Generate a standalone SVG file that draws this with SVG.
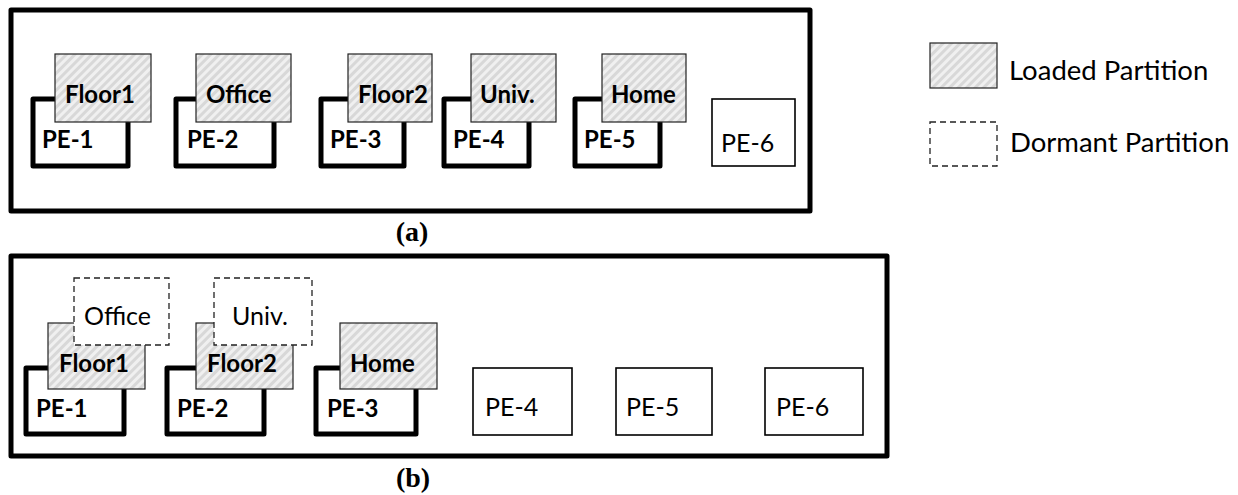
<svg xmlns="http://www.w3.org/2000/svg" width="1238" height="495" viewBox="0 0 1238 495">
  <defs>
    <!-- diagonal hatch used for loaded partitions -->
    <pattern id="hatch" width="6" height="6" patternUnits="userSpaceOnUse" patternTransform="rotate(45)">
      <rect width="6" height="6" fill="#f0f0f0"/>
      <rect width="3" height="6" fill="#d8d8d8"/>
    </pattern>
    <style>
      .frame { fill: #fff; stroke: #000; stroke-width: 5; stroke-linejoin: round; }
      .pe-busy { fill: #fff; stroke: #000; stroke-width: 5; stroke-linejoin: round; }
      .pe-idle { fill: #fff; stroke: #000; stroke-width: 1.6; }
      .loaded { fill: url(#hatch); stroke: #222; stroke-width: 1.2; }
      .dormant { fill: #fff; stroke: #222; stroke-width: 1.3; stroke-dasharray: 6 4; }
      .b { font-family: Lato, "Open Sans", "Liberation Sans", sans-serif; font-weight: bold; font-size: 24px; fill: #000; }
      .r { font-family: Lato, "Open Sans", "Liberation Sans", sans-serif; font-size: 25px; fill: #000; }
      .legend { font-family: Lato, "Open Sans", "Liberation Sans", sans-serif; font-size: 27.5px; fill: #000; }
      .cap { font-family: "Liberation Serif", serif; font-weight: bold; font-size: 28px; fill: #000; text-anchor: middle; }
    </style>
  </defs>
  <rect width="1238" height="495" fill="#fff"/>

  <!-- (a) all partitions loaded -->
  <g id="panel-a">
    <rect class="frame" x="11" y="10" width="799" height="201"/>
    <g id="a-pe1">
      <rect class="pe-busy" x="33" y="99" width="95" height="67"/>
      <rect class="loaded" x="55" y="54" width="96" height="68"/>
      <text class="b" x="65" y="103">Floor1</text>
      <text class="b" x="42" y="148">PE-1</text>
    </g>
    <g id="a-pe2">
      <rect class="pe-busy" x="176" y="99" width="98" height="67"/>
      <rect class="loaded" x="196" y="54" width="95" height="68"/>
      <text class="b" x="206" y="103">Office</text>
      <text class="b" x="187" y="148">PE-2</text>
    </g>
    <g id="a-pe3">
      <rect class="pe-busy" x="321" y="99" width="83" height="67"/>
      <rect class="loaded" x="348" y="54" width="84" height="68"/>
      <text class="b" x="358" y="103">Floor2</text>
      <text class="b" x="330" y="148">PE-3</text>
    </g>
    <g id="a-pe4">
      <rect class="pe-busy" x="444" y="99" width="85" height="67"/>
      <rect class="loaded" x="471" y="54" width="85" height="68"/>
      <text class="b" x="480" y="103">Univ.</text>
      <text class="b" x="453" y="148">PE-4</text>
    </g>
    <g id="a-pe5">
      <rect class="pe-busy" x="575" y="99" width="85" height="67"/>
      <rect class="loaded" x="602" y="54" width="84" height="68"/>
      <text class="b" x="611" y="103">Home</text>
      <text class="b" x="584" y="148">PE-5</text>
    </g>
    <g id="a-pe6">
      <rect class="pe-idle" x="712" y="99" width="83" height="67"/>
      <text class="r" x="721" y="152">PE-6</text>
    </g>
    <text class="cap" x="412" y="241">(a)</text>
  </g>

  <!-- (b) consolidated partitions -->
  <g id="panel-b">
    <rect class="frame" x="11" y="256" width="876" height="200"/>
    <g id="b-pe1">
      <rect class="pe-busy" x="26" y="368" width="98" height="66"/>
      <rect class="loaded" x="48" y="323" width="97" height="66"/>
      <rect class="dormant" x="74" y="278" width="95" height="67"/>
      <text class="r" x="84" y="325">Office</text>
      <text class="b" x="59" y="372">Floor1</text>
      <text class="b" x="36" y="417">PE-1</text>
    </g>
    <g id="b-pe2">
      <rect class="pe-busy" x="167" y="368" width="97" height="66"/>
      <rect class="loaded" x="196" y="323" width="97" height="66"/>
      <rect class="dormant" x="214" y="278" width="98" height="67"/>
      <text class="r" x="232" y="325">Univ.</text>
      <text class="b" x="207" y="372">Floor2</text>
      <text class="b" x="177" y="417">PE-2</text>
    </g>
    <g id="b-pe3">
      <rect class="pe-busy" x="316" y="368" width="100" height="66"/>
      <rect class="loaded" x="340" y="323" width="97" height="66"/>
      <text class="b" x="350" y="372">Home</text>
      <text class="b" x="327" y="417">PE-3</text>
    </g>
    <g id="b-pe4">
      <rect class="pe-idle" x="473" y="368" width="99" height="67"/>
      <text class="r" x="485" y="416">PE-4</text>
    </g>
    <g id="b-pe5">
      <rect class="pe-idle" x="616" y="368" width="96" height="67"/>
      <text class="r" x="626" y="416">PE-5</text>
    </g>
    <g id="b-pe6">
      <rect class="pe-idle" x="765" y="368" width="98" height="67"/>
      <text class="r" x="776" y="416">PE-6</text>
    </g>
    <text class="cap" x="413" y="487">(b)</text>
  </g>

  <!-- legend -->
  <g id="legend">
    <g id="legend-loaded">
      <rect class="loaded" x="930" y="43" width="67" height="45"/>
      <text class="legend" x="1009" y="80">Loaded Partition</text>
    </g>
    <g id="legend-dormant">
      <rect class="dormant" x="930" y="122" width="67" height="44"/>
      <text class="legend" x="1010" y="152">Dormant Partition</text>
    </g>
  </g>

  <g id="connectors"/>
</svg>
